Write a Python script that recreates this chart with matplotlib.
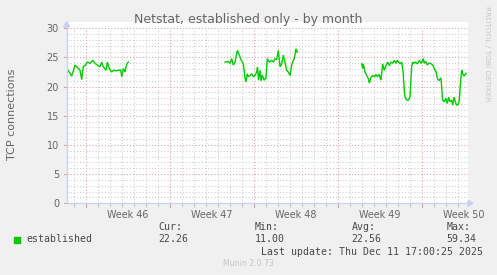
import matplotlib
matplotlib.use("Agg")
import matplotlib.pyplot as plt
import matplotlib.transforms as mtransforms
import math

# ---- data (x in days, 0 = start of week 46) ----
seg1_days = [-1.61, -1.42, -1.19, -1.04, -0.92, -0.75, -0.5, -0.36, -0.23, -0.08,
             0.11, 0.33, 0.56, 0.75, 0.94, 1.17, 1.31, 1.44, 1.67, 1.78,
             1.94, 2.14, 2.28, 2.5, 2.69, 2.89, 2.98, 3.11, 3.25, 3.33, 3.44, 3.53]
seg1_vals = [23.1, 22.6, 21.8, 22.8, 23.7, 23.4, 22.8, 21.2, 23.4, 23.6,
             24.2, 24.0, 24.5, 24.0, 23.7, 23.4, 24.2, 23.4, 22.8, 24.2,
             23.1, 22.5, 22.8, 22.7, 22.8, 22.9, 21.7, 23.1, 22.5, 23.4, 24.0, 24.2]

seg2_days = [11.58, 11.86, 12.0, 12.14, 12.28, 12.42, 12.61, 12.78, 12.92, 13.11,
             13.25, 13.33, 13.44, 13.53, 13.67, 13.81, 13.94, 14.08, 14.22, 14.29,
             14.38, 14.5, 14.58, 14.69, 14.83, 15.0, 15.11, 15.28, 15.47, 15.61,
             15.75, 15.89, 16.03, 16.17, 16.31, 16.44, 16.58, 16.72, 16.86, 17.0,
             17.14, 17.28, 17.36, 17.5, 17.61]
seg2_vals = [24.2, 24.3, 24.0, 24.8, 23.7, 24.2, 26.2, 25.4, 24.6, 23.9,
             21.5, 20.8, 22.2, 21.7, 21.9, 22.2, 21.7, 21.9, 22.5, 23.3,
             21.1, 22.8, 21.0, 22.0, 21.1, 21.5, 24.8, 24.2, 24.5, 24.2,
             24.8, 24.6, 26.2, 23.4, 23.9, 25.4, 24.2, 22.8, 22.5, 21.9,
             23.7, 24.5, 24.8, 26.5, 25.9]

seg3_days = [22.97, 23.06, 23.11, 23.25, 23.39, 23.53, 23.61, 23.75, 23.92, 24.06,
             24.17, 24.28, 24.42, 24.58, 24.72, 24.86, 25.0, 25.14, 25.28, 25.42,
             25.56, 25.69, 25.83, 25.94, 26.06, 26.17, 26.31, 26.44, 26.5, 26.58,
             26.72, 26.86, 27.0, 27.14, 27.22, 27.33, 27.47, 27.61, 27.78, 27.92,
             28.06, 28.11, 28.19, 28.31, 28.44, 28.56, 28.72, 28.89, 29.03, 29.17,
             29.31, 29.44, 29.58, 29.72, 29.86, 30.0, 30.11, 30.22, 30.33, 30.47,
             30.56, 30.67, 30.78, 30.89, 31.03, 31.11, 31.22, 31.31, 31.39, 31.5, 31.67]
seg3_vals = [23.9, 23.1, 23.9, 22.5, 21.9, 21.4, 20.6, 21.6, 21.9, 21.7,
             22.1, 21.7, 22.1, 21.1, 23.9, 22.8, 23.6, 24.2, 23.6, 24.2,
             24.0, 24.5, 24.0, 24.5, 24.2, 23.9, 24.2, 22.2, 20.0, 18.2,
             17.7, 17.7, 18.2, 23.4, 24.2, 24.0, 24.2, 23.9, 24.5, 24.0,
             24.5, 24.8, 24.0, 24.3, 23.7, 24.0, 24.0, 23.7, 23.1, 22.5,
             21.2, 21.1, 21.5, 17.7, 17.4, 18.0, 17.1, 18.2, 17.4, 17.7,
             16.8, 18.2, 17.4, 16.8, 17.0, 17.7, 21.1, 22.8, 22.2, 21.8, 22.3]

week_labels = ["Week 46", "Week 47", "Week 48", "Week 49", "Week 50"]
week_label_pos = [3.5, 10.5, 17.5, 24.5, 31.5]
week_starts = [0, 7, 14, 21, 28]
y_ticks = [0, 5, 10, 15, 20, 25, 30]

legend_name = "established"
stat_names = ["Cur:", "Min:", "Avg:", "Max:"]
stat_values = ["22.26", "11.00", "22.56", "59.34"]

# ---- styling ----
W, H = 497, 275
BG = "#F0F0F0"
GREEN = "#00CC00"
AXIS = "#C8D0F4"
MINOR = "#CACACA"
MAJOR = "#E09C9C"
FONT = "#666666"
LFONT = "#484848"

fig = plt.figure(figsize=(W / 100, H / 100), dpi=100, facecolor=BG)
ax_l, ax_r, ax_t, ax_b = 66.7, 468.0, 22.0, 203.3
ax = fig.add_axes([ax_l / W, 1 - ax_b / H, (ax_r - ax_l) / W, (ax_b - ax_t) / H])
ax.set_facecolor("white")
xmin, xmax = (ax_l - 86) / 12.0, (ax_r - 86) / 12.0
ymax = 30 * (ax_b - ax_t) / 175.0
ax.set_xlim(xmin, xmax)
ax.set_ylim(0, ymax)
for s in ax.spines.values():
    s.set_visible(False)

dash = dict(lw=0.75, linestyle=(0, (1, 2)))
# horizontal grid
for v in range(1, 31):
    if v % 5 == 0:
        ax.plot([xmin, xmax], [v, v], color=MAJOR, zorder=1, **dash)
    else:
        ax.plot([xmin, xmax], [v, v], color=MINOR, zorder=0.9, **dash)
# vertical grid
for d in range(math.ceil(xmin), math.floor(xmax) + 1):
    if d in week_starts:
        ax.plot([d, d], [0, 30], color=MAJOR, zorder=1, **dash)
    else:
        ax.plot([d, d], [0, 30], color=MINOR, zorder=0.9, **dash)

# x tick marks below axis
trans = mtransforms.blended_transform_factory(ax.transData, ax.transAxes)
tick_len = 2.5 / (ax_b - ax_t)
for d in range(math.ceil(xmin), math.floor(xmax) + 1):
    col = MAJOR if d in week_starts else "#BBBBBB"
    ln = tick_len * (1.3 if d in week_starts else 1.0)
    ax.plot([d, d], [0, -ln], color=col, lw=0.75, transform=trans, clip_on=False)
# y tick marks
trans_y = mtransforms.blended_transform_factory(ax.transAxes, ax.transData)
for v in y_ticks:
    ax.plot([-2.5 / (ax_r - ax_l), 0], [v, v], color=MAJOR, lw=0.75,
            transform=trans_y, clip_on=False)

# data
for xs, ys in [(seg1_days, seg1_vals), (seg2_days, seg2_vals), (seg3_days, seg3_vals)]:
    ax.plot(xs, ys, color=GREEN, lw=1.0, zorder=3, solid_joinstyle="miter")

# axes lines and arrows
ax.plot([xmin, xmax + 0.05], [0, 0], color=AXIS, lw=0.9, zorder=4, clip_on=False)
ax.plot([xmin, xmin], [0, ymax - 0.1], color=AXIS, lw=0.9, zorder=4, clip_on=False)
fig.patches.append(plt.Polygon([[(ax_r) / W, 1 - (ax_b - 3) / H], [(ax_r) / W, 1 - (ax_b + 3) / H],
                                [(ax_r + 5) / W, 1 - ax_b / H]], closed=True,
                               transform=fig.transFigure, color=AXIS, zorder=5))
fig.patches.append(plt.Polygon([[(ax_l - 3) / W, 1 - (ax_t + 5) / H], [(ax_l + 3) / W, 1 - (ax_t + 5) / H],
                                [ax_l / W, 1 - (ax_t - 0.5) / H]], closed=True,
                               transform=fig.transFigure, color=AXIS, zorder=5))

# ticks & labels
ax.set_xticks(week_label_pos)
ax.set_xticklabels(week_labels, fontsize=6.9, color=FONT)
ax.set_yticks(y_ticks)
ax.set_yticklabels([str(v) for v in y_ticks], fontsize=7, color=FONT)
ax.tick_params(axis="both", length=0)
ax.tick_params(axis="x", pad=5)
ax.tick_params(axis="y", pad=5.5)


def ftext(x, y, s, **kw):
    fig.text(x / W, 1 - y / H, s, **kw)


ftext(248, 19, "Netstat, established only - by month", fontsize=9, color=FONT,
      ha="center", va="center")
ftext(12, 114, "TCP connections", fontsize=8, color=FONT, rotation=90,
      ha="center", va="center")
ftext(487, 54, "RRDTOOL / TOBI OETIKER", fontsize=5.4, color="#C8C8C8",
      rotation=270, ha="center", va="center")

mono = dict(family="DejaVu Sans Mono", fontsize=7.15, color=LFONT, va="center")
fig.patches.append(plt.Rectangle((14 / W, 1 - 242.7 / H), 6 / W, 6 / H,
                                 transform=fig.transFigure, color=GREEN))
ftext(26.5, 239.5, legend_name, ha="left", **mono)
stat_x = [158.3, 255.0, 351.7, 446.7]
for sx, nm, val in zip(stat_x, stat_names, stat_values):
    ftext(sx, 227.3, nm, ha="left", **mono)
    ftext(sx, 239.5, val, ha="left", **mono)
ftext(482.7, 251.7, "Last update: Thu Dec 11 17:00:25 2025", ha="right", **mono)
ftext(248, 263.7, "Munin 2.0.73", fontsize=5.6, color="#C4C4C4", ha="center", va="center")

fig.savefig("out.png", dpi=100, facecolor=BG)
